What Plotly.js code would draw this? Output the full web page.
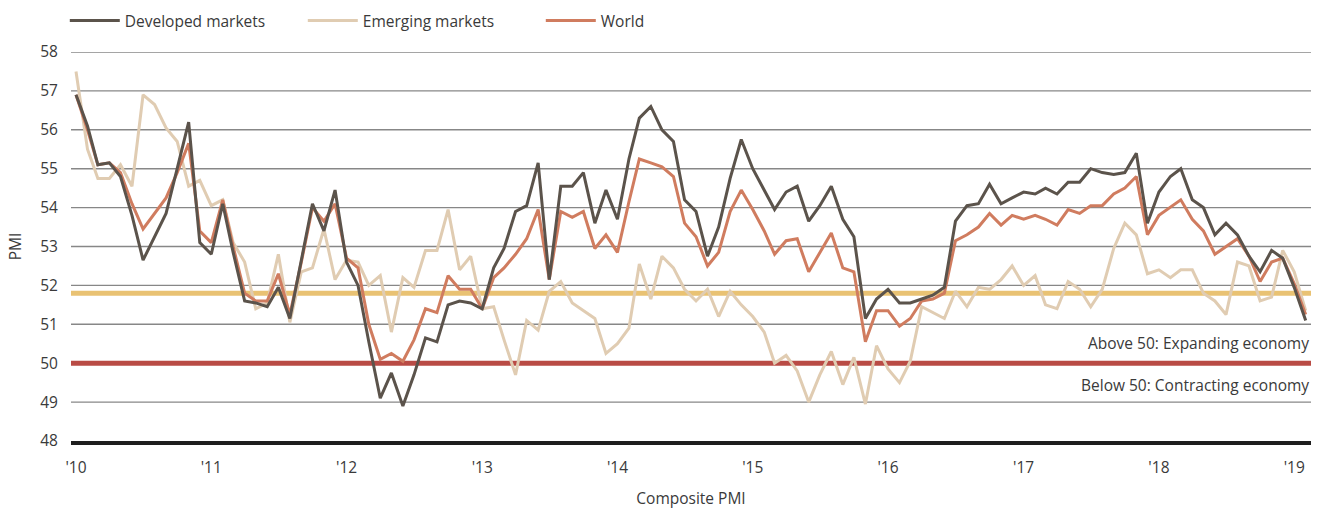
<!DOCTYPE html>
<html>
<head>
<meta charset="utf-8">
<script src="https://cdn.plot.ly/plotly-3.0.1.min.js"></script>
<style>
  html, body { margin: 0; padding: 0; background: #ffffff; }
  #chart { width: 1325px; height: 511px; }
</style>
</head>
<body>
<div id="chart"></div>
<script>
// Monthly composite PMI, Jan 2010 – Feb 2019
const startYear = 2010;
const startMonth = 1;

const developed = [
  56.9, 56.1, 55.1, 55.15, 54.8, 53.8, 52.65, 53.25, 53.85, 55.0, 56.2, 53.1,
  52.8, 54.1, 52.85, 51.6, 51.55, 51.45, 51.95, 51.15, 52.6, 54.1, 53.4, 54.45,
  52.6, 52.0, 50.55, 49.1, 49.75, 48.9, 49.7, 50.65, 50.55, 51.5, 51.6, 51.55,
  51.4, 52.45, 52.95, 53.9, 54.05, 55.15, 52.15, 54.55, 54.55, 54.9, 53.6, 54.45,
  53.7, 55.25, 56.3, 56.6, 56.0, 55.7, 54.2, 53.9, 52.75, 53.5, 54.75, 55.75,
  55.0, 54.45, 53.95, 54.4, 54.55, 53.65, 54.05, 54.55, 53.7, 53.25, 51.15, 51.65,
  51.9, 51.55, 51.55, 51.65, 51.75, 51.95, 53.65, 54.05, 54.1, 54.6, 54.1, 54.25,
  54.4, 54.35, 54.5, 54.35, 54.65, 54.65, 55.0, 54.9, 54.85, 54.9, 55.4, 53.6,
  54.4, 54.8, 55.0, 54.2, 54.0, 53.3, 53.6, 53.3, 52.75, 52.35, 52.9, 52.7,
  51.95, 51.1
];

const emerging = [
  57.5, 55.5, 54.75, 54.75, 55.1, 54.55, 56.9, 56.65, 56.05, 55.7, 54.55, 54.7,
  54.05, 54.2, 53.1, 52.6, 51.4, 51.55, 52.8, 51.05, 52.35, 52.45, 53.45, 52.15,
  52.65, 52.6, 52.0, 52.25, 50.8, 52.2, 51.95, 52.9, 52.9, 53.95, 52.4, 52.75,
  51.4, 51.45, 50.6, 49.7, 51.1, 50.85, 51.85, 52.1, 51.55, 51.35, 51.15, 50.25,
  50.5, 50.9, 52.55, 51.65, 52.75, 52.45, 51.9, 51.6, 51.9, 51.2, 51.85, 51.5,
  51.2, 50.8, 50.0, 50.2, 49.8, 49.0, 49.7, 50.3, 49.45, 50.15, 48.95, 50.45,
  49.85, 49.5, 50.05, 51.45, 51.3, 51.15, 51.85, 51.45, 51.95, 51.9, 52.15, 52.5,
  52.0, 52.25, 51.5, 51.4, 52.1, 51.9, 51.45, 51.9, 52.95, 53.6, 53.3, 52.3,
  52.4, 52.2, 52.4, 52.4, 51.8, 51.6, 51.25, 52.6, 52.5, 51.6, 51.7, 52.9,
  52.35, 51.35
];

const world = [
  56.9, 56.0, 55.1, 55.15, 54.9, 54.1, 53.45, 53.85, 54.25, 54.9, 55.65, 53.4,
  53.1, 54.2, 53.0, 51.8, 51.6, 51.6, 52.3, 51.25, 52.6, 54.0, 53.65, 54.1,
  52.7, 52.45, 51.0, 50.1, 50.25, 50.05, 50.6, 51.4, 51.3, 52.25, 51.9, 51.9,
  51.4, 52.2, 52.45, 52.8, 53.2, 53.95, 52.15, 53.9, 53.75, 53.9, 52.95, 53.3,
  52.85, 54.15, 55.25, 55.15, 55.05, 54.8, 53.6, 53.25, 52.5, 52.85, 53.9, 54.45,
  53.95, 53.4, 52.8, 53.15, 53.2, 52.35, 52.85, 53.35, 52.45, 52.35, 50.55, 51.35,
  51.35, 50.95, 51.15, 51.6, 51.65, 51.8, 53.15, 53.3, 53.5, 53.85, 53.55, 53.8,
  53.7, 53.8, 53.7, 53.55, 53.95, 53.85, 54.05, 54.05, 54.35, 54.5, 54.8, 53.3,
  53.8, 54.0, 54.2, 53.7, 53.4, 52.8, 53.0, 53.2, 52.75, 52.1, 52.6, 52.7,
  52.05, 51.25
];

const seriesNames = ['Developed markets', 'Emerging markets', 'World'];
const referenceLevel = 51.8;   // gold reference line
const expansionThreshold = 50; // red threshold line
const yTickLabels = ['48','49','50','51','52','53','54','55','56','57','58'];
const yearTickLabels = ["'10","'11","'12","'13","'14","'15","'16","'17","'18","'19"];

// month dates
const months = developed.map((_, i) => {
  const m0 = (startMonth - 1) + i;
  const y = startYear + Math.floor(m0 / 12);
  const m = (m0 % 12) + 1;
  return y + '-' + String(m).padStart(2, '0') + '-01';
});
const yearTicks = yearTickLabels.map((_, k) => (startYear + k) + '-01-01');
const yTickVals = yTickLabels.map(Number);

const FONT = 'Open Sans, Noto Sans, sans-serif';
const TXT = '#3a3a3a';
const FS = 15.5;

const traces = [
  { x: months, y: emerging, name: seriesNames[1], type: 'scatter', mode: 'lines',
    line: { color: '#e0ccb2', width: 3 }, legendrank: 2 },
  { x: months, y: world, name: seriesNames[2], type: 'scatter', mode: 'lines',
    line: { color: '#d07c5f', width: 3 }, legendrank: 3 },
  { x: months, y: developed, name: seriesNames[0], type: 'scatter', mode: 'lines',
    line: { color: '#5b534b', width: 3 }, legendrank: 1 }
];

// horizontal gridlines (under everything), then reference lines
const gridShapes = yTickVals.filter(v => v !== 48).map(v => ({
  type: 'line', xref: 'paper', x0: 0, x1: 1, yref: 'y', y0: v, y1: v,
  line: { color: '#878787', width: 1.4 }, layer: 'below'
}));
const refShapes = [
  { type: 'line', xref: 'paper', x0: 0, x1: 1, yref: 'y', y0: referenceLevel, y1: referenceLevel,
    line: { color: '#e9c273', width: 5 }, layer: 'below' },
  { type: 'line', xref: 'paper', x0: 0, x1: 1, yref: 'y', y0: expansionThreshold, y1: expansionThreshold,
    line: { color: '#b94b45', width: 5 }, layer: 'below' }
];

const layout = {
  width: 1325, height: 511,
  paper_bgcolor: '#ffffff', plot_bgcolor: '#ffffff',
  margin: { l: 71, r: 14, t: 52, b: 70, autoexpand: false },
  font: { family: FONT, size: FS, color: TXT },
  showlegend: true,
  legend: {
    orientation: 'h', x: -0.005, xanchor: 'left', y: 1.08, yanchor: 'middle',
    font: { family: FONT, size: FS, color: TXT },
    itemwidth: 50, entrywidth: 173, entrywidthmode: 'pixels',
    traceorder: 'normal', bgcolor: 'rgba(0,0,0,0)'
  },
  xaxis: {
    type: 'date',
    range: ['2009-12-18 12:00', '2019-02-15 08:00'],
    tickmode: 'array', tickvals: yearTicks, ticktext: yearTickLabels,
    ticks: 'outside', ticklen: 10, tickcolor: 'rgba(0,0,0,0)',
    showgrid: false, zeroline: false,
    showline: true, linecolor: '#1e1e1e', linewidth: 3.5,
    tickfont: { family: FONT, size: FS, color: TXT },
    title: { text: 'Composite PMI', standoff: 17, font: { family: FONT, size: FS, color: TXT } }
  },
  yaxis: {
    range: [48, 58],
    tickmode: 'array', tickvals: yTickVals, ticktext: yTickLabels,
    ticks: 'outside', ticklen: 9, tickcolor: 'rgba(0,0,0,0)',
    showgrid: false, zeroline: false, showline: false,
    tickfont: { family: FONT, size: FS, color: TXT },
    title: { text: 'PMI', standoff: 14, font: { family: FONT, size: FS, color: TXT } }
  },
  shapes: gridShapes.concat(refShapes),
  annotations: [
    { xref: 'paper', x: 1, xanchor: 'right', yref: 'y', y: 50.52, yanchor: 'middle',
      text: 'Above 50: Expanding economy', showarrow: false,
      font: { family: FONT, size: FS, color: TXT } },
    { xref: 'paper', x: 1, xanchor: 'right', yref: 'y', y: 49.44, yanchor: 'middle',
      text: 'Below 50: Contracting economy', showarrow: false,
      font: { family: FONT, size: FS, color: TXT } }
  ]
};

Plotly.newPlot('chart', traces, layout, { displayModeBar: false, staticPlot: true });
</script>
</body>
</html>
